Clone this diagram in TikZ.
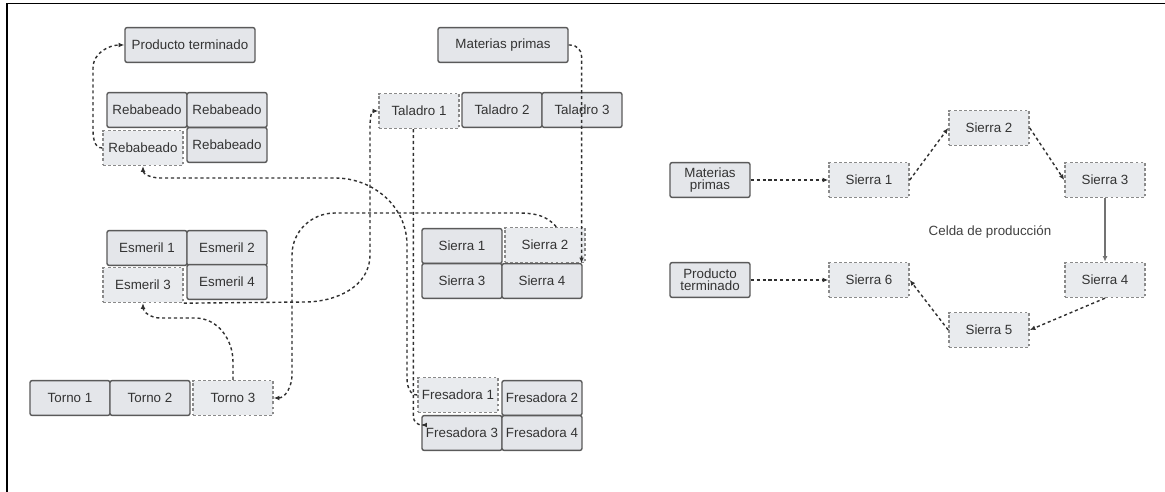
\documentclass[tikz,border=0pt]{standalone}
\usepackage{fontspec}
\setmainfont{Liberation Sans}
\usepackage{xcolor}
\usepackage{tikz}
\usetikzlibrary{arrows.meta,positioning,calc}

\definecolor{boxfill}{HTML}{E4E6EA}
\definecolor{boxline}{HTML}{5A5A5A}
\definecolor{cellline}{HTML}{8A8A8A}
\definecolor{flowline}{HTML}{303030}

\tikzset{
  machine/.style={draw=boxline, fill=boxfill, rounded corners=1.5pt, line width=1pt,
    minimum width=2cm, minimum height=0.87cm, inner sep=1pt, align=center,
    text=black!80, font=\fontsize{9.5}{10.5}\selectfont},
  incell/.style={machine, draw=cellline, fill=boxfill!80, dashed, dash pattern=on 2pt off 1.6pt,
    rounded corners=0pt, line width=1.1pt},
  flow/.style={draw=flowline, line width=1pt, dash pattern=on 2.2pt off 2pt,
    -{Latex[length=1.4mm,width=1.2mm]}},
}

\begin{document}
\begin{tikzpicture}[x=0.025cm, y=-0.025cm]
        \useasboundingbox (0,0) rectangle (1165,492);
        \draw[line width=1.2pt] (7,492) -- (7,3.5) -- (1165,3.5);

        % Functional layout: machines grouped by process.
        \node[machine, minimum width=3.25cm] (prodA) at (190,45) {Producto terminado};
        \node[machine, minimum width=3.25cm] (matA) at (503,45) {Materias primas};

        \node[machine] (reb1) at (147,110) {Rebabeado};
        \node[machine] (reb2) at (227,110) {Rebabeado};
        \node[incell] (reb3) at (143,148) {Rebabeado};
        \node[machine] (reb4) at (227,145) {Rebabeado};

        \node[incell] (tal1) at (419,111) {Taladro 1};
        \node[machine] (tal2) at (502,110) {Taladro 2};
        \node[machine] (tal3) at (582,110) {Taladro 3};

        \node[machine] (esm1) at (147,248) {Esmeril 1};
        \node[machine] (esm2) at (227,248) {Esmeril 2};
        \node[incell] (esm3) at (143,285) {Esmeril 3};
        \node[machine] (esm4) at (227,282) {Esmeril 4};

        \node[machine] (sie1) at (462,246) {Sierra 1};
        \node[incell] (sie2) at (545,245) {Sierra 2};
        \node[machine] (sie3) at (462,281) {Sierra 3};
        \node[machine] (sie4) at (542,281) {Sierra 4};

        \node[machine] (tor1) at (70,398) {Torno 1};
        \node[machine] (tor2) at (150,398) {Torno 2};
        \node[incell] (tor3) at (233,398) {Torno 3};

        \node[incell] (fre1) at (458,395) {Fresadora 1};
        \node[machine] (fre2) at (542,398) {Fresadora 2};
        \node[machine] (fre3) at (462,433) {Fresadora 3};
        \node[machine] (fre4) at (542,433) {Fresadora 4};

        % Route of one part through the shop.
        \draw[flow, rounded corners=8pt] (matA.east) -| ([xshift=-3pt]sie2.south east);
        \draw[flow] ([xshift=8pt]sie2.north) to[out=130,in=0] (515,213) -- (335,213)
          to[out=180,in=90] (292,255) -- (292,375) to[out=-90,in=0] (tor3.east);
        \draw[flow] (tor3.north) -- (233,362) to[out=90,in=0] (195,318) -- (160,318)
          to[out=180,in=-90] (esm3.south);
        \draw[flow] (esm3.south east) -- (305,302) to[out=0,in=-90] (370,255) -- (370,128)
          to[out=90,in=180] (tal1.west);
        \draw[flow, rounded corners=6pt] ([xshift=-4pt]tal1.south) |- ([yshift=2mm]fre3.west);
        \draw[flow] (fre1.west) to[out=180,in=-90] (407,378) -- (407,245)
          to[out=90,in=0] (335,178) -- (160,178) to[out=180,in=-90] (reb3.south);
        \draw[flow] (reb3.west) to[out=180,in=-90] (93,128) -- (93,68)
          to[out=90,in=180] (prodA.west);

        % Production cell.
        \node[machine] (matB) at (710,180) {Materias\\[-2pt]primas};
        \node[machine] (prodB) at (710,280) {Producto\\[-2pt]terminado};
        \node[incell] (s1) at (869,180) {Sierra 1};
        \node[incell] (s2) at (989,128) {Sierra 2};
        \node[incell] (s3) at (1105,180) {Sierra 3};
        \node[incell] (s4) at (1105,280) {Sierra 4};
        \node[incell] (s5) at (989,330) {Sierra 5};
        \node[incell] (s6) at (869,280) {Sierra 6};
        \node[font=\fontsize{9.5}{10.5}\selectfont, text=black!75] (celda) at (990,232) {Celda de producción};

        \draw[flow] (matB) -- (s1);
        \draw[flow] (s1.east) -- (s2.west);
        \draw[flow] (s2.east) -- (s3.west);
        \draw[flow, solid, draw=black!55] (s3) -- (s4);
        \draw[flow] (s4.south) -- (s5.east);
        \draw[flow] (s5.west) -- (s6.east);
        \draw[flow] (prodB) -- (s6);
    \end{tikzpicture}
\end{document}
